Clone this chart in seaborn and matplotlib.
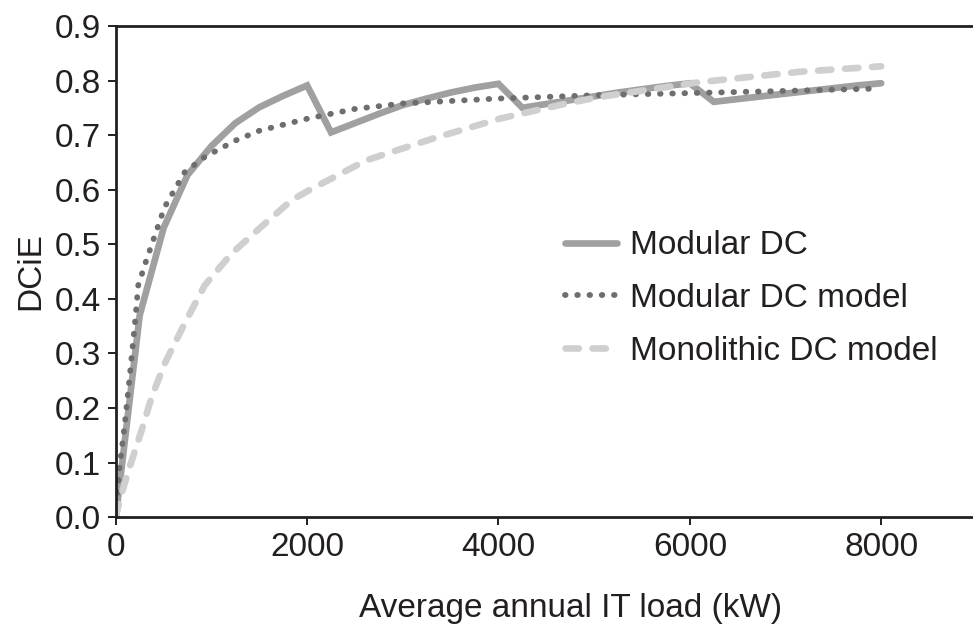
import matplotlib
matplotlib.use('Agg')
import matplotlib.pyplot as plt
import pandas as pd
import seaborn as sns
from matplotlib.lines import Line2D

# data
modular_x = [0, 250, 500, 750, 1000, 1250, 1500, 1750, 2000,
             2250, 2500, 2750, 3000, 3250, 3500, 3750, 4000,
             4250, 4500, 4750, 5000, 5250, 5500, 5750, 6000,
             6250, 6500, 6750, 7000, 7250, 7500, 7750, 8000]
modular_y = [0.0, 0.37, 0.53, 0.627, 0.68, 0.722, 0.751, 0.772, 0.791,
             0.705, 0.722, 0.739, 0.755, 0.767, 0.778, 0.787, 0.794,
             0.750, 0.757, 0.764, 0.771, 0.778, 0.784, 0.790, 0.795,
             0.761, 0.766, 0.771, 0.776, 0.781, 0.786, 0.791, 0.795]

model_x = [0, 40, 95, 145, 200, 235, 320, 510, 720, 930, 1250, 1500,
           2000, 2500, 3000, 4000, 5000, 6000, 7000, 7900]
model_y = [0.0, 0.092, 0.172, 0.257, 0.355, 0.425, 0.471, 0.568, 0.632,
           0.66, 0.69, 0.708, 0.730, 0.748, 0.758, 0.767, 0.773, 0.777,
           0.781, 0.785]

mono_x = [0, 40, 145, 270, 375, 510, 720, 930, 1210, 1520, 1840, 2030,
          2620, 3320, 4010, 4710, 5060, 6100, 7150, 8000]
mono_y = [0.0, 0.031, 0.092, 0.159, 0.220, 0.281, 0.355, 0.425, 0.483,
          0.532, 0.581, 0.600, 0.654, 0.694, 0.730, 0.758, 0.770, 0.797,
          0.816, 0.826]

labels = ['Modular DC', 'Modular DC model', 'Monolithic DC model']
x_ticks = [0, 2000, 4000, 6000, 8000]
y_ticks = [0.0, 0.1, 0.2, 0.3, 0.4, 0.5, 0.6, 0.7, 0.8, 0.9]

sns.set_style('ticks')
ink = '#231f20'
fs = 24
plt.rcParams['font.family'] = ['Liberation Sans', 'DejaVu Sans']
plt.rcParams['font.size'] = fs
plt.rcParams['text.color'] = ink
plt.rcParams['axes.labelcolor'] = ink
plt.rcParams['xtick.color'] = ink
plt.rcParams['ytick.color'] = ink

df_mod = pd.DataFrame({'load': modular_x, 'dcie': modular_y})
df_model = pd.DataFrame({'load': model_x, 'dcie': model_y})
df_mono = pd.DataFrame({'load': mono_x, 'dcie': mono_y})

c_solid = '#a0a0a0'
c_dot = '#6e6e6e'
c_dash = '#cfcfcf'
dot_style = (0, (0.1, 2.0))
dash_style = (0, (2.0, 2.05))

fig = plt.figure(figsize=(9.73, 6.33), dpi=100)
ax = fig.add_axes([0.119, 0.183, 0.881, 0.776])

sns.lineplot(data=df_mod, x='load', y='dcie', ax=ax, color=c_solid, lw=4.8,
             estimator=None, sort=False, solid_joinstyle='miter')
sns.lineplot(data=df_model, x='load', y='dcie', ax=ax, color=c_dot, lw=4.2,
             estimator=None, sort=False, linestyle=dot_style,
             dash_capstyle='round')
sns.lineplot(data=df_mono, x='load', y='dcie', ax=ax, color=c_dash, lw=4.8,
             estimator=None, sort=False, linestyle=dash_style,
             dash_capstyle='round')

ax.set_xlim(0, 8960)
ax.set_ylim(0, 0.9)
ax.set_xticks(x_ticks)
ax.set_xticklabels([str(t) for t in x_ticks])
ax.set_yticks(y_ticks)
ax.set_yticklabels([f'{t:.1f}' for t in y_ticks])
ax.tick_params(direction='out', length=6, width=1.4, labelsize=fs, pad=5)
ax.set_xlabel('Average annual IT load (kW)', fontsize=fs)
ax.xaxis.set_label_coords(0.53, -0.155)
ax.set_ylabel('DCiE', fontsize=fs, labelpad=6)

for side in ['left', 'top', 'bottom']:
    ax.spines[side].set_color(ink)
    ax.spines[side].set_linewidth(2)
ax.spines['right'].set_visible(False)

handles = [
    Line2D([], [], color=c_solid, lw=4.8, solid_capstyle='round'),
    Line2D([], [], color=c_dot, lw=4.2, linestyle=dot_style, dash_capstyle='round'),
    Line2D([], [], color=c_dash, lw=4.8, linestyle=dash_style, dash_capstyle='round'),
]
ax.legend(handles=handles, labels=labels, frameon=False, fontsize=fs,
          loc='center left', bbox_to_anchor=(0.524, 0.445), handlelength=1.55,
          handletextpad=0.4, labelspacing=0.65, borderaxespad=0, borderpad=0)

fig.savefig('out.png', dpi=100)
